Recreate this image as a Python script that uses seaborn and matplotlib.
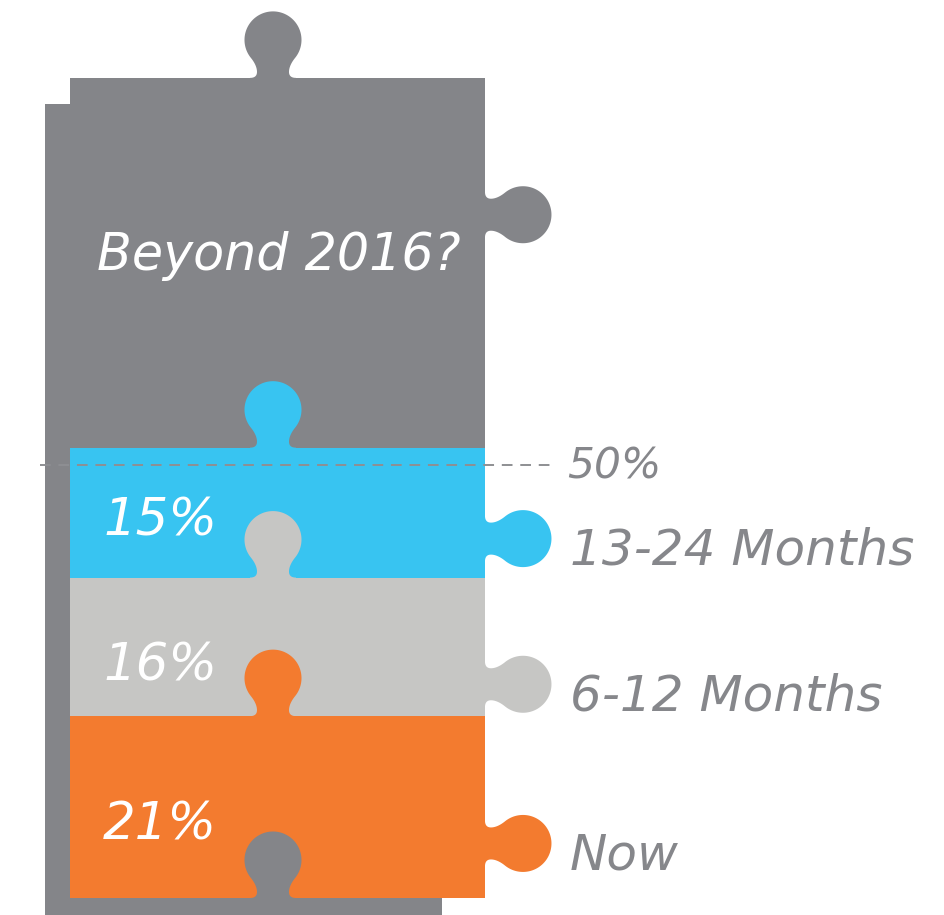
import numpy as np
import matplotlib
matplotlib.use("Agg")
import matplotlib.pyplot as plt
import seaborn as sns
from matplotlib.patches import Polygon, Rectangle

sns.set_theme(style="white")
plt.rcParams['font.family'] = ['DejaVu Sans']

# data (bottom to top of the stack)
segments = ["Now", "6-12 Months", "13-24 Months"]
values = [21, 16, 15]
pct_labels = ["21%", "16%", "15%"]
seg_colors = ["#F37B2F", "#C6C6C4", "#38C4F1"]
ref_value = 50
ref_label = "50%"
top_label = "Beyond 2016?"

GRAY = "#848589"
TEXT_GRAY = "#86878B"

# layout (pixels of a 944x915 canvas)
FIG_W, FIG_H = 944, 915
XLIM = (-0.535, 1.285)
YLIM = (-(FIG_H - 898) / 8.66, 898 / 8.66)
PX_X = FIG_W / (XLIM[1] - XLIM[0])
PX_Y = FIG_H / (YLIM[1] - YLIM[0])
BAR_W = 0.8
KNOB_X = -4.5 / PX_X     # top tabs sit a bit left of the bar centre
GRAY_TOP = 94.7          # top edge of the "Beyond 2016?" piece
GRAY_KNOB = 78.9
KNOB_FRAC = [0.30, 0.23, 0.30]


def bez2(p0, p1, p2, n=12):
    t = np.linspace(0, 1, n)[:, None]
    return (1 - t) ** 2 * p0 + 2 * (1 - t) * t * p1 + t ** 2 * p2


def bez3(p0, p1, p2, p3, n=16):
    t = np.linspace(0, 1, n)[:, None]
    return ((1 - t) ** 3 * p0 + 3 * (1 - t) ** 2 * t * p1
            + 3 * (1 - t) * t ** 2 * p2 + t ** 3 * p3)


def knob_outline():
    # puzzle tab in pixel units: u across the base, v outward
    r, cy = 28.5, 38.0
    jv = 20.0
    ju = np.sqrt(r ** 2 - (cy - jv) ** 2)
    tang = np.array([-(cy - jv), ju]) / r
    joint = np.array([-ju, jv])
    left = np.vstack([
        [[-23, -3]],
        bez2(np.array([-23, 0.]), np.array([-16, 0.]), np.array([-16, 6.])),
        bez3(np.array([-16, 6.]), np.array([-16, 11.]),
             joint - 5 * tang, joint),
    ])
    right = left[::-1].copy()
    right[:, 0] *= -1
    a_left = np.arctan2(jv - cy, -ju) + 2 * np.pi
    a_right = np.arctan2(jv - cy, ju)
    ang = np.linspace(a_left, a_right, 90)
    arc = np.column_stack([r * np.cos(ang), cy + r * np.sin(ang)])
    return np.vstack([left, arc, right])


KNOB = knob_outline()


def add_knob(ax, x, y, direction, color, z):
    u, v = KNOB[:, 0], KNOB[:, 1]
    if direction == "up":
        pts = np.column_stack([x + u / PX_X, y + v / PX_Y])
    else:
        pts = np.column_stack([x + v / PX_X, y + u / PX_Y])
    ax.add_patch(Polygon(pts, closed=True, facecolor=color,
                         edgecolor="none", zorder=z))


fig = plt.figure(figsize=(FIG_W / 100, FIG_H / 100), dpi=100)
ax = fig.add_axes([0, 0, 1, 1])

bottoms = np.concatenate([[0], np.cumsum(values)[:-1]])
tops = np.cumsum(values)

# back piece (shadow)
ax.add_patch(Rectangle(((45 - 277.5) / PX_X, YLIM[0]),
                       (442 - 45) / PX_X, (898 - 104) / PX_Y - YLIM[0],
                       facecolor=GRAY, edgecolor="none", zorder=0.5))

# gray "Beyond 2016?" piece
sns.barplot(x=["stack"], y=[GRAY_TOP], color=GRAY, width=BAR_W,
            saturation=1, errorbar=None, linewidth=0, zorder=1, ax=ax)
add_knob(ax, KNOB_X, GRAY_TOP, "up", GRAY, 1.1)
add_knob(ax, BAR_W / 2, GRAY_KNOB, "right", GRAY, 1.1)

# stacked segments, drawn from the top down so lower ones overlap
knob_y = [b + f * v for b, f, v in zip(bottoms, KNOB_FRAC, values)]
for i in reversed(range(len(values))):
    z = 2 + (len(values) - 1 - i)
    sns.barplot(x=["stack"], y=[tops[i]], color=seg_colors[i], width=BAR_W,
                saturation=1, errorbar=None, linewidth=0, zorder=z, ax=ax)
    add_knob(ax, KNOB_X, tops[i], "up", seg_colors[i], z + 0.1)
    add_knob(ax, BAR_W / 2, knob_y[i], "right", seg_colors[i], z + 0.1)
    ax.text(-0.336, knob_y[i] + 0.4, pct_labels[i], color="white",
            fontsize=37, style="italic", va="baseline", ha="left", zorder=8)
    ax.text(0.564, knob_y[i] - 3.0, segments[i], color=TEXT_GRAY,
            fontsize=36, style="italic", va="baseline", ha="left", zorder=8)

# gray tab from the piece below
add_knob(ax, KNOB_X, 0, "up", GRAY, 6)

# 50% reference line
ax.plot([(40 - 277.5) / PX_X, (550 - 277.5) / PX_X], [ref_value, ref_value],
        color="#8E8F93", lw=1.4, dashes=(5.5, 4), zorder=7)
ax.text(0.558, ref_value - 1.6, ref_label, color=TEXT_GRAY, fontsize=30.5,
        style="italic", va="baseline", ha="left", zorder=8)

ax.text(-0.348, 72.5, top_label, color="white", fontsize=36.5,
        style="italic", va="baseline", ha="left", zorder=8)

ax.set_xlim(*XLIM)
ax.set_ylim(*YLIM)
ax.axis("off")

fig.savefig("out.png", dpi=100)
